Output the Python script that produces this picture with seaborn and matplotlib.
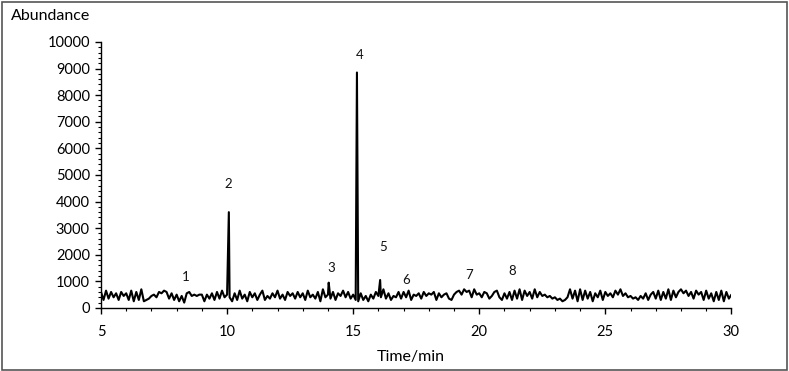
import numpy as np
import pandas as pd
import seaborn as sns
import matplotlib
matplotlib.use("Agg")
import matplotlib.pyplot as plt
from matplotlib.ticker import MultipleLocator
from matplotlib.patches import Rectangle

# ---- data ----
t_start, t_end, t_step = 5.0, 30.0, 0.1
baseline = [
    600, 300, 650, 350, 600, 400, 550, 300, 600, 450,   # 5
    550, 300, 650, 250, 600, 300, 700, 250, 300, 350,   # 6
    450, 500, 400, 600, 550, 650, 600, 350, 550, 300,   # 7
    500, 250, 450, 200, 550, 600, 450, 500, 450, 500,   # 8
    500, 250, 500, 350, 550, 300, 600, 350, 650, 400,   # 9
    500, 400, 250, 550, 300, 650, 350, 500, 250, 600,   # 10
    400, 550, 300, 500, 650, 300, 450, 350, 550, 400,   # 11
    650, 350, 500, 300, 600, 450, 550, 350, 600, 400,   # 12
    550, 300, 650, 400, 500, 350, 600, 250, 700, 400,   # 13
    500, 350, 600, 300, 550, 450, 650, 400, 600, 350,   # 14
    500, 300, 250, 550, 300, 450, 250, 500, 350, 600,   # 15
    450, 400, 700, 350, 550, 300, 450, 400, 600, 350,   # 16
    600, 400, 650, 300, 500, 450, 550, 350, 600, 450,   # 17
    550, 500, 600, 300, 550, 400, 500, 550, 350, 300,   # 18
    500, 600, 650, 500, 700, 600, 650, 400, 700, 500,   # 19
    550, 400, 600, 550, 350, 450, 600, 650, 400, 300,   # 20
    550, 350, 600, 300, 650, 350, 700, 300, 650, 450,   # 21
    600, 350, 700, 400, 600, 450, 500, 400, 450, 350,   # 22
    400, 300, 350, 250, 300, 400, 700, 350, 650, 250,   # 23
    700, 300, 650, 350, 600, 250, 550, 400, 650, 300,   # 24
    600, 450, 550, 400, 650, 500, 700, 450, 550, 400,   # 25
    450, 350, 400, 300, 450, 350, 550, 300, 500, 600,   # 26
    350, 650, 300, 600, 350, 700, 300, 650, 400, 600,   # 27
    700, 550, 650, 450, 600, 350, 650, 500, 600, 300,   # 28
    650, 350, 550, 250, 600, 300, 650, 250, 600, 350,   # 29
    500,                                                # 30
]
peak_times = [10.07, 14.03, 15.15, 16.07]
peak_heights = [3600, 950, 8850, 1050]

label_texts = ["1", "2", "3", "4", "5", "6", "7", "8"]
label_x = [8.35, 10.05, 14.15, 15.25, 16.2, 17.1, 19.6, 21.3]
label_y = [1150, 4650, 1500, 9500, 2300, 1050, 1250, 1400]

x_label = "Time/min"
y_label = "Abundance"

# ---- build the series ----
times = np.round(t_start + t_step * np.arange(len(baseline)), 2)
df = pd.concat([
    pd.DataFrame({"time": times, "abundance": baseline}),
    pd.DataFrame({"time": peak_times, "abundance": peak_heights}),
]).sort_values("time").reset_index(drop=True)

# ---- plot ----
sns.set_theme(style="white")
plt.rcParams["font.family"] = ["Lato", "DejaVu Sans"]

fig = plt.figure(figsize=(7.89, 3.71), dpi=100)
ax = fig.add_axes([0.128, 0.170, 0.799, 0.717])

sns.lineplot(data=df, x="time", y="abundance", ax=ax, color="black",
             linewidth=1.5, sort=False, estimator=None)

for txt, lx, ly in zip(label_texts, label_x, label_y):
    ax.text(lx, ly, txt, ha="center", va="center", fontsize=9.5, color="#111111")

ax.set_xlim(5, 30)
ax.set_ylim(0, 10000)
ax.xaxis.set_major_locator(MultipleLocator(5))
ax.xaxis.set_minor_locator(MultipleLocator(1))
ax.yaxis.set_major_locator(MultipleLocator(1000))
ax.yaxis.set_minor_locator(MultipleLocator(200))

for s in ["top", "right"]:
    ax.spines[s].set_visible(False)
for s in ["left", "bottom"]:
    ax.spines[s].set_color("black")
    ax.spines[s].set_linewidth(1.0)

ax.tick_params(axis="both", which="major", direction="out", length=4, width=1,
               color="black", labelsize=10.5, labelcolor="black", pad=4,
               bottom=True, left=True)
ax.tick_params(axis="both", which="minor", direction="out", length=2.5, width=0.8,
               color="black", bottom=True, left=True)
ax.tick_params(axis="x", which="major", pad=8)

ax.set_xlabel("")
ax.set_ylabel("")
fig.text(0.521, 0.038, x_label, ha="center", va="center", fontsize=11.5, color="black")
fig.text(0.014, 0.957, y_label, ha="left", va="center", fontsize=11.5, color="black")

fig.add_artist(Rectangle((0.002, 0.004), 0.995, 0.99, transform=fig.transFigure,
                         fill=False, edgecolor="#555555", linewidth=1.2))

fig.savefig("out.png", dpi=100)
